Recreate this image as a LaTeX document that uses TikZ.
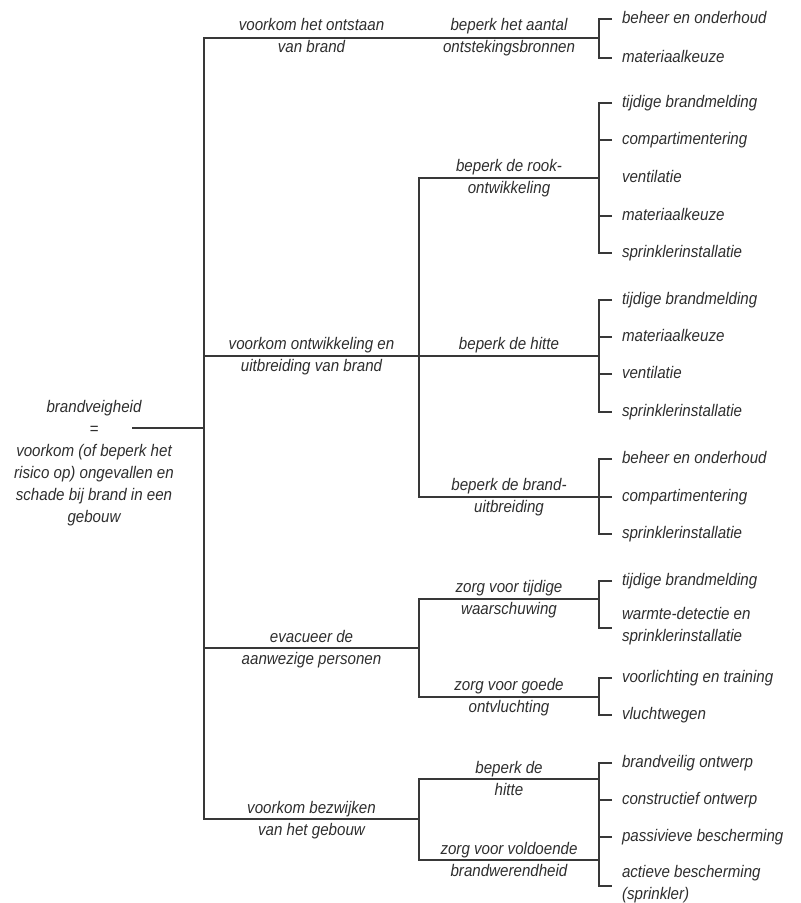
\documentclass[tikz,border=0pt]{standalone}
\usepackage{fontspec}
\setmainfont{Liberation Sans}[FakeStretch=0.9]
\usepackage{tikz}

\begin{document}
\begin{tikzpicture}[x=0.5pt, y=-0.5pt, line width=0.7pt, color=black!78,
  every node/.style={font=\fontsize{8.4pt}{11pt}\selectfont\itshape, text=black!82, inner sep=0pt, align=center,
    execute at begin node=\strut, execute at end node=\strut},
  leaf/.style={anchor=west, align=left, outer xsep=5pt, outer ysep=0pt}]
\useasboundingbox (0,0) rectangle (800,903);

\node (root) at (94,465) {brandveigheid\\=\\voorkom (of beperk het\\risico op) ongevallen en\\schade bij brand in een\\gebouw};
\coordinate (r0) at (132,428);
\coordinate (t0) at (204,428);

\node (ontstaan) at (311.5,39) {voorkom het ontstaan\\van brand};
\node (ontwikkeling) at (311.5,358) {voorkom ontwikkeling en\\uitbreiding van brand};
\node (evacueer) at (311.5,650.5) {evacueer de\\aanwezige personen};
\node (bezwijken) at (311.5,821.5) {voorkom bezwijken\\van het gebouw};

\node (bronnen) at (509,39) {beperk het aantal\\ontstekingsbronnen};
\node (rook) at (509,179.5) {beperk de rook-\\ontwikkeling};
\node[anchor=south] (hitte) at (509,357) {beperk de hitte};
\node (uitbreiding) at (509,499) {beperk de brand-\\uitbreiding};
\node (waarschuwing) at (509,600.5) {zorg voor tijdige\\waarschuwing};
\node (ontvluchting) at (509,699) {zorg voor goede\\ontvluchting};
\node (hitteb) at (509,782) {beperk de\\hitte};
\node (brandwerend) at (509,863) {zorg voor voldoende\\brandwerendheid};

\coordinate (t2) at (204,356);
\coordinate (t3) at (204,648);
\coordinate (t4) at (204,819);
\coordinate (j2c) at (419,497);
\coordinate (j3b) at (419,697);
\coordinate (j3c) at (419,648);
\coordinate (j4b) at (419,860);
\coordinate (j4c) at (419,819);
\coordinate (k1) at (599,38);
\coordinate (k2) at (599,178);
\coordinate (k3) at (599,356);
\coordinate (k4) at (599,497);
\coordinate (k5) at (599,599);
\coordinate (k6) at (599,697);
\coordinate (k7) at (599,779);
\coordinate (k8) at (599,860);

\node[leaf] (a1) at (612,19) {beheer en onderhoud};
\node[leaf] (a2) at (612,58) {materiaalkeuze};

\node[leaf] (b1) at (612,103) {tijdige brandmelding};
\node[leaf] (b2) at (612,140) {compartimentering};
\node[leaf] (b3) at (612,178) {ventilatie};
\node[leaf] (b4) at (612,216) {materiaalkeuze};
\node[leaf] (b5) at (612,253) {sprinklerinstallatie};

\node[leaf] (c1) at (612,300) {tijdige brandmelding};
\node[leaf] (c2) at (612,337) {materiaalkeuze};
\node[leaf] (c3) at (612,374) {ventilatie};
\node[leaf] (c4) at (612,412) {sprinklerinstallatie};

\node[leaf] (d1) at (612,459) {beheer en onderhoud};
\node[leaf] (d2) at (612,497) {compartimentering};
\node[leaf] (d3) at (612,534) {sprinklerinstallatie};

\node[leaf] (e1) at (612,581) {tijdige brandmelding};
\node[leaf] (e2) at (612,628) {warmte-detectie en\\sprinklerinstallatie};

\node[leaf] (f1) at (612,678) {voorlichting en training};
\node[leaf] (f2) at (612,715) {vluchtwegen};

\node[leaf] (g1) at (612,763) {brandveilig ontwerp};
\node[leaf] (g2) at (612,800) {constructief ontwerp};
\node[leaf] (g3) at (612,837) {passivieve bescherming};
\node[leaf] (g4) at (612,886) {actieve bescherming\\(sprinkler)};

\draw (r0) -- (t0);
\draw (k1) -| (t4) -- (j4c);
\draw (t2) -- (k3);
\draw (t3) -- (j3c);
\draw (k2) -| (j2c) -- (k4);
\draw (k5) -| (j3b) -- (k6);
\draw (k7) -| (j4b) -- (k8);

\draw (a1.west) -| (k1) |- (a2.west);
\draw (b1.west) -| (k2) |- (b5.west);
\draw (b2.west) -- (b2.west -| k2);
\draw (b4.west) -- (b4.west -| k2);
\draw (c1.west) -| (k3) |- (c4.west);
\draw (c2.west) -- (c2.west -| k3);
\draw (c3.west) -- (c3.west -| k3);
\draw (d1.west) -| (k4) |- (d3.west);
\draw (d2.west) -- (d2.west -| k4);
\draw (e1.west) -| (k5) |- (e2.west);
\draw (f1.west) -| (k6) |- (f2.west);
\draw (g1.west) -| (k7) |- (g4.west);
\draw (g2.west) -- (g2.west -| k7);
\draw (g3.west) -- (g3.west -| k7);
\end{tikzpicture}
\end{document}
